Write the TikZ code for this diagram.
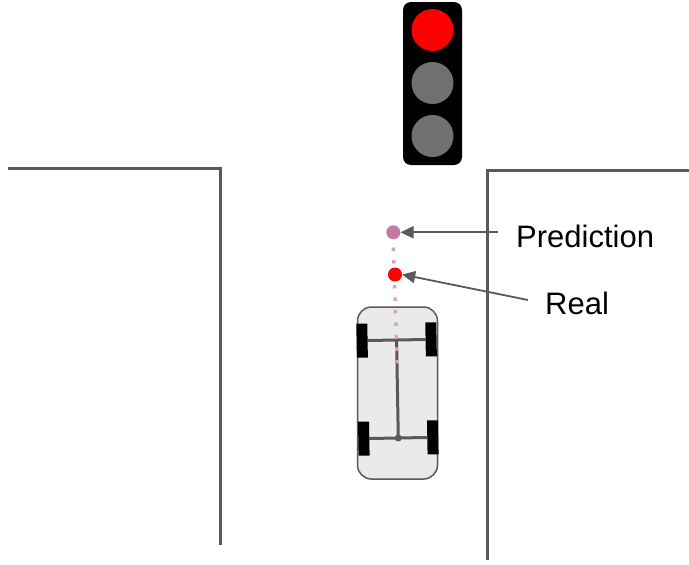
\documentclass[tikz,border=0pt]{standalone}
\usepackage{fontspec}
\setmainfont{Liberation Sans}
\usetikzlibrary{arrows.meta}
\definecolor{roadgray}{HTML}{595959}
\definecolor{lampgray}{HTML}{707070}
\definecolor{lampred}{HTML}{FF0000}
\definecolor{predcol}{HTML}{C27BA0}
\definecolor{trailcol}{HTML}{D5A6BD}
\definecolor{bodyfill}{HTML}{EAEAEA}
\begin{document}
\begin{tikzpicture}[x=1pt,y=-1pt,
  road/.style={draw=roadgray,line width=3pt},
  lamp/.style={circle,minimum size=42pt,inner sep=0pt},
  marker/.style={circle,minimum size=14pt,inner sep=0pt},
  label/.style={font=\fontsize{31}{36}\selectfont,inner sep=0pt,anchor=west},
  pointer/.style={draw=roadgray,line width=1.8pt,-{Triangle[length=13pt,width=12pt]}},
  wheel/.style={fill=black},
  axle/.style={draw=roadgray,line width=3pt}]
\useasboundingbox (0,0) rectangle (689,565);

% road edges
\draw[road] (8,168) -- (220,168) -- (220,545);
\draw[road] (487,560) -- (487,170) -- (689,170);

% traffic light
\node[fill=black,rounded corners=8pt,minimum width=59pt,minimum height=163pt,inner sep=0pt] (housing) at (432.5,83.5) {};
\node[lamp,fill=lampred] (redlamp) at (432.5,30) {};
\node[lamp,fill=lampgray] (amberlamp) at (432.5,83) {};
\node[lamp,fill=lampgray] (greenlamp) at (432.5,136) {};

% car (top view), slightly turned
\begin{scope}[shift={(397.5,393)},rotate=1]
  \node[draw=roadgray,fill=bodyfill,line width=1.5pt,rounded corners=14pt,minimum width=80pt,minimum height=172pt,inner sep=0pt] (carbody) at (0,0) {};
  \draw[axle] (-29,-53) -- (29,-53);
  \draw[axle] (-29,45) -- (29,45);
  \draw[axle] (0,-53) -- (0,45);
  \fill[roadgray] (0,45) circle (3.5pt);
  \fill[wheel] (-40,-70) rectangle (-29,-36);
  \fill[wheel] (29,-70) rectangle (40,-36);
  \fill[wheel] (-40,28) rectangle (-29,62);
  \fill[wheel] (29,28) rectangle (40,62);
\end{scope}

% trail from the predicted point through the real point into the car
\coordinate (trailend) at (397.5,372);
\node[marker] (pred) at (393.3,232.3) {};
\node[marker] (real) at (395,274.5) {};
\draw[trailcol,line width=3.5pt,dash pattern=on 3.5pt off 9pt] (pred.south) ++(0,8) -- (trailend);
\node[marker,fill=predcol] at (pred) {};
\node[marker,fill=lampred] at (real) {};

% labels and pointers
\node[label] (predtext) at (516,236.5) {Prediction};
\node[label] (realtext) at (545,303) {Real};
\coordinate (predfrom) at (498,232.3);
\coordinate (realfrom) at (528,300);
\draw[pointer] (predfrom) -- (pred.east);
\draw[pointer] (realfrom) -- (real.east);
\end{tikzpicture}
\end{document}
